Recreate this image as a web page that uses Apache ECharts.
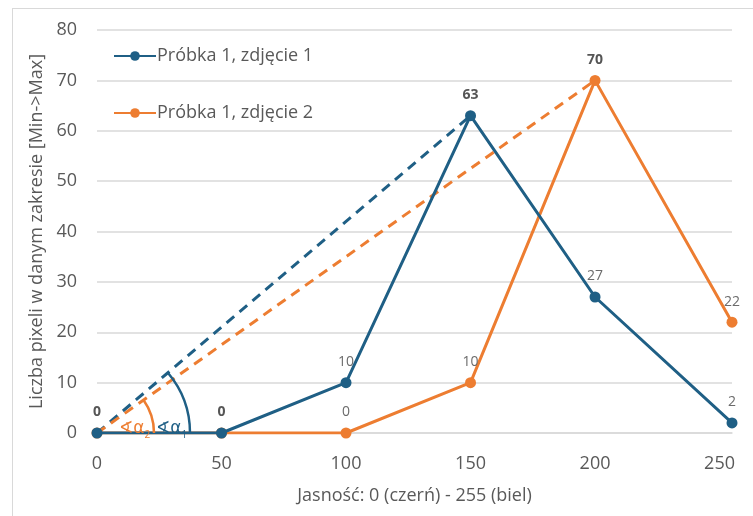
<!DOCTYPE html>
<html>
<head>
<meta charset="utf-8">
<script src="https://cdn.jsdelivr.net/npm/echarts@6/dist/echarts.min.js"></script>
<style>
  html, body { margin: 0; padding: 0; background: #fff; }
  #frame { position: absolute; left: 12px; top: 8px; width: 760px; height: 520px; border-left: 1.5px solid #d9d9d9; border-top: 1.5px solid #d9d9d9; box-sizing: border-box; }
  #chart { width: 753px; height: 516px; position: absolute; left: 0; top: 0; }
</style>
</head>
<body>
<div id="frame"></div>
<div id="chart"></div>
<script>
// Brightness bins (0 = black ... 255 = white)
const brightness = [0, 50, 100, 150, 200, 255];
const xTicks = [0, 50, 100, 150, 200, 250];
const yTicks = [0, 10, 20, 30, 40, 50, 60, 70, 80];

const seriesNames = ['Próbka 1, zdjęcie 1', 'Próbka 1, zdjęcie 2'];
const photo1 = [0, 0, 10, 63, 27, 2];
const photo2 = [0, 0, 0, 10, 70, 22];

// Dashed guides from the origin to each peak
const guide1 = [[0, 0], [150, 63]];
const guide2 = [[0, 0], [200, 70]];

const BLUE = '#1f5f85';
const ORANGE = '#ed7d31';
const TEXT = '#595959';
const FONT = '"Open Sans", "Noto Sans", sans-serif';

// Labels that overlap with the other series are hidden there
const labelShow1 = [true, true, true, true, true, true];
const labelShow2 = [false, false, true, true, true, true];
const boldLabels1 = [true, true, false, true, false, false];
const boldLabels2 = [false, false, false, false, true, false];

function points(xs, ys, show, bold) {
  return xs.map((x, i) => ({
    value: [x, ys[i]],
    label: { show: show[i], fontWeight: bold[i] ? 'bold' : 'normal', color: bold[i] ? '#555' : '#6b6b6b' }
  }));
}

const chart = echarts.init(document.getElementById('chart'), null, { renderer: 'canvas' });

const option = {
  animation: false,
  textStyle: { fontFamily: FONT },
  grid: { left: 97, right: 21, top: 30, bottom: 83, containLabel: false },
  legend: {
    data: seriesNames,
    orient: 'vertical',
    left: 108,
    top: 42,
    itemGap: 39,
    itemWidth: 42,
    itemHeight: 12,
    textStyle: { fontSize: 18, color: TEXT, fontFamily: FONT, padding: [0, 0, 0, -4] },
    backgroundColor: 'rgba(0,0,0,0)'
  },
  xAxis: {
    type: 'value',
    min: 0,
    max: 255,
    interval: 50,
    name: 'Jasność: 0 (czerń) - 255 (biel)',
    nameLocation: 'middle',
    nameGap: 54,
    nameTextStyle: { fontSize: 18, color: TEXT, fontFamily: FONT },
    axisLine: { show: true, lineStyle: { color: '#d9d9d9', width: 1.5 } },
    axisTick: { show: false },
    splitLine: { show: false },
    axisLabel: {
      fontSize: 18, color: TEXT, margin: 22, showMaxLabel: false,
      formatter: v => (xTicks.includes(v) ? String(v) : '')
    }
  },
  yAxis: {
    type: 'value',
    min: yTicks[0],
    max: yTicks[yTicks.length - 1],
    interval: 10,
    name: 'Liczba pixeli w danym zakresie [Min->Max]',
    nameLocation: 'middle',
    nameGap: 45,
    nameTextStyle: { fontSize: 18, color: TEXT, fontFamily: FONT },
    axisLine: { show: false },
    axisTick: { show: false },
    splitLine: { show: true, lineStyle: { color: '#d9d9d9', width: 1.5 } },
    axisLabel: { fontSize: 18, color: TEXT, margin: 20 }
  },
  series: [
    {
      name: 'guide1', type: 'line', data: guide1, symbol: 'none', silent: true,
      lineStyle: { color: BLUE, width: 3, type: [10, 7] }, z: 1
    },
    {
      name: 'guide2', type: 'line', data: guide2, symbol: 'none', silent: true,
      lineStyle: { color: ORANGE, width: 3, type: [10, 7] }, z: 1
    },
    {
      name: seriesNames[1], type: 'line',
      data: points(brightness, photo2, labelShow2, boldLabels2),
      symbol: 'circle', symbolSize: 11,
      itemStyle: { color: ORANGE },
      lineStyle: { color: ORANGE, width: 3 },
      label: { show: true, position: 'top', distance: 8, fontSize: 14, fontFamily: FONT },
      z: 3
    },
    {
      name: seriesNames[0], type: 'line',
      data: points(brightness, photo1, labelShow1, boldLabels1),
      symbol: 'circle', symbolSize: 11,
      itemStyle: { color: BLUE },
      lineStyle: { color: BLUE, width: 3 },
      label: { show: true, position: 'top', distance: 8, fontSize: 14, fontFamily: FONT },
      z: 4
    }
  ]
};

chart.setOption(option);

// Angle markers between the dashed guides and the horizontal axis
function angleMarks() {
  const o = chart.convertToPixel({ gridIndex: 0 }, guide1[0]);
  const p1 = chart.convertToPixel({ gridIndex: 0 }, guide1[1]);
  const p2 = chart.convertToPixel({ gridIndex: 0 }, guide2[1]);
  const a1 = Math.atan2(o[1] - p1[1], p1[0] - o[0]);
  const a2 = Math.atan2(o[1] - p2[1], p2[0] - o[0]);
  const arc = (r, a, color) => ({
    type: 'arc', silent: true, z: 5,
    shape: { cx: o[0], cy: o[1], r: r, startAngle: -a, endAngle: 0, clockwise: true },
    style: { stroke: color, lineWidth: 2.5, fill: null }
  });
  const label = (x, sub, color) => ({
    type: 'text', silent: true, z: 6,
    x: o[0] + x, y: o[1] - 15,
    style: {
      text: '{m|∢α}{s|' + sub + '}',
      fill: color,
      rich: {
        m: { fontSize: 17, fontFamily: '"DejaVu Sans", sans-serif', fill: color },
        s: { fontSize: 10, fontFamily: FONT, fill: color, padding: [12, 0, 0, 0] }
      }
    }
  });
  chart.setOption({
    graphic: [
      arc(93, a1, BLUE),
      arc(57, a2, ORANGE),
      label(22, '2', ORANGE),
      label(59, '1', BLUE)
    ]
  });
}
angleMarks();
</script>
</body>
</html>
